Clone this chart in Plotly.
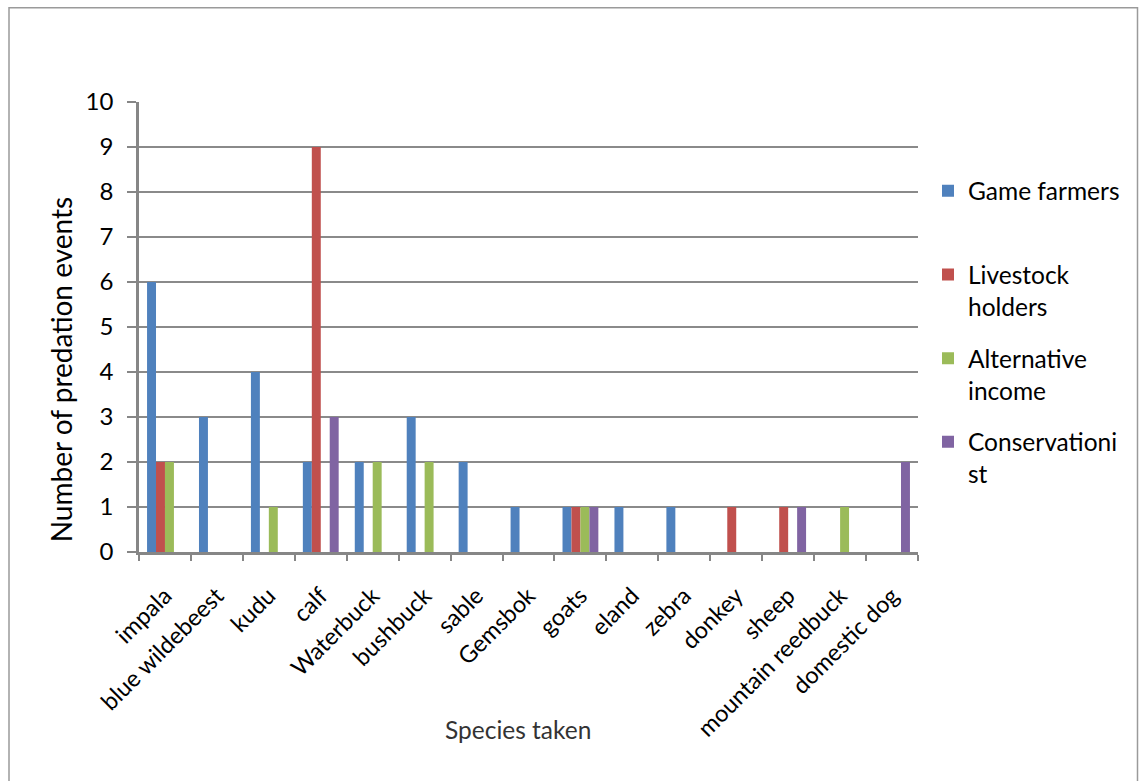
import plotly.graph_objects as go

categories = ["impala", "blue wildebeest", "kudu", "calf", "Waterbuck", "bushbuck", "sable",
              "Gemsbok", "goats", "eland", "zebra", "donkey", "sheep", "mountain reedbuck",
              "domestic dog"]
game_farmers = [6, 3, 4, 2, 2, 3, 2, 1, 1, 1, 1, 0, 0, 0, 0]
livestock_holders = [2, 0, 0, 9, 0, 0, 0, 0, 1, 0, 0, 1, 1, 0, 0]
alternative_income = [2, 0, 1, 0, 2, 2, 0, 0, 1, 0, 0, 0, 0, 1, 0]
conservationist = [0, 0, 0, 3, 0, 0, 0, 0, 1, 0, 0, 0, 1, 0, 2]
series_names = ["Game farmers<br>&nbsp;", "Livestock<br>holders", "Alternative<br>income", "Conservationi<br>st"]
y_ticks = list(range(0, 11))

colors = ["#4F81BD", "#C0504D", "#9BBB59", "#8064A2"]
FONT = "Lato, Calibri, sans-serif"

W, H = 1139, 781
L, R, T, B = 139, 918, 101.7, 551.7


def px(x):
    return (x - L) / (R - L)


def py(y):
    return (B - y) / (B - T)


fig = go.Figure()
for name, vals, c in zip(series_names, [game_farmers, livestock_holders, alternative_income, conservationist], colors):
    fig.add_trace(go.Bar(x=categories, y=vals, name=name, marker_color=c,
                         marker_line_width=0, legendgroup=name))

fig.update_layout(
    width=W, height=H,
    margin=dict(l=L, r=W - R, t=T, b=H - B, pad=0),
    paper_bgcolor="white", plot_bgcolor="white",
    barmode="group", bargap=0.31, bargroupgap=0,
    font=dict(family=FONT, color="#000000"),
    showlegend=True,
    legend=dict(x=px(928), y=py(168), xanchor="left", yanchor="top",
                font=dict(size=24.5, family=FONT, color="#000000"),
                valign="top", tracegroupgap=17, bgcolor="rgba(0,0,0,0)",
                itemwidth=30),
    xaxis=dict(showline=True, linecolor="#868686", linewidth=2.5,
               ticks="outside", tickson="boundaries", ticklen=6, tickcolor="#868686", tickwidth=1.5,
               tickangle=-45, ticklabelstandoff=18,
               tickfont=dict(size=23.5, family=FONT, color="#000000"),
               showgrid=False, zeroline=False),
    yaxis=dict(range=[0, 10], tickvals=y_ticks, showline=True, linecolor="#868686", linewidth=2.5,
               ticks="outside", ticklen=9, tickcolor="#868686", tickwidth=1.5,
               ticklabelstandoff=9,
               tickfont=dict(size=24, family=FONT, color="#000000"),
               showgrid=True, gridcolor="#8a8a8a", gridwidth=1.5, zeroline=False),
    shapes=[dict(type="rect", xref="paper", yref="paper",
                 x0=px(9), x1=px(1137.5), y0=py(800), y1=py(7.5),
                 line=dict(color="#9a9a9a", width=1.5), fillcolor="rgba(0,0,0,0)", layer="below")],
    annotations=[
        dict(text="Number of predation events", xref="paper", yref="paper",
             x=px(61), y=py(370), textangle=-90, showarrow=False,
             xanchor="center", yanchor="middle",
             font=dict(size=28, family=FONT, color="#000000")),
        dict(text="Species taken", xref="paper", yref="paper",
             x=px(518), y=py(729), showarrow=False, xanchor="center", yanchor="middle",
             font=dict(size=24.5, family=FONT, color="#333333")),
    ],
)

fig.write_html("out.html", config={"displayModeBar": False},
               post_script="document.body.style.margin='0';document.body.style.overflow='hidden';")
